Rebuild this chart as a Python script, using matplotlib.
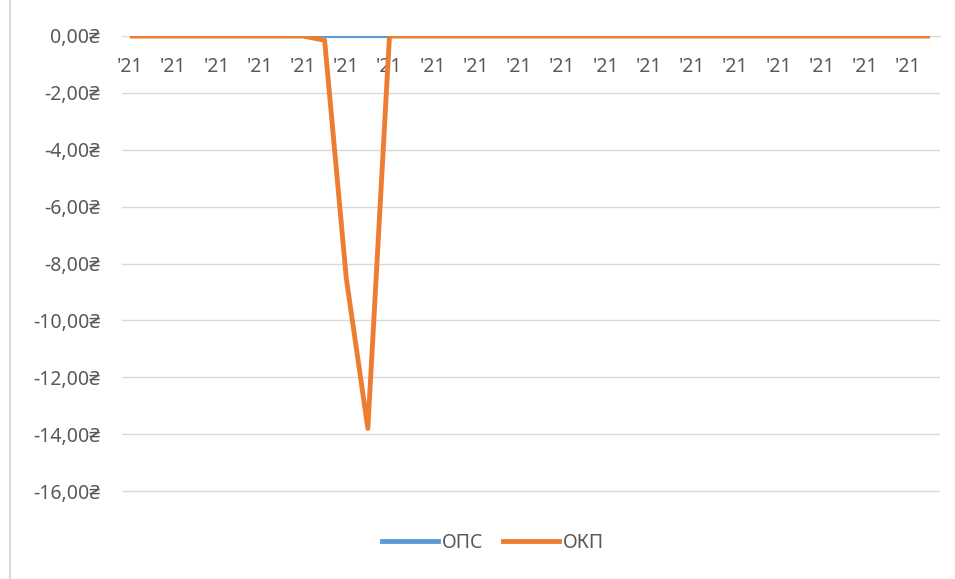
import matplotlib
matplotlib.use("Agg")
import matplotlib.pyplot as plt
from matplotlib.lines import Line2D
import numpy as np

plt.rcParams['font.family'] = ['Noto Sans', 'DejaVu Sans']

n_points = 38
ops = [0.0] * n_points
okp = [0.0] * n_points
okp[9] = -0.15
okp[10] = -8.5
okp[11] = -13.8
x_labels = ["'21"] * 19
series_names = ["ОПС", "ОКП"]
y_ticks = [0, -2, -4, -6, -8, -10, -12, -14, -16]

fig = plt.figure(figsize=(9.55, 5.79), dpi=100)
ax = fig.add_axes([122/955, 1-493/579, (940-122)/955, (493-36)/579])

x = np.arange(n_points)
ax.plot(x, ops, color='#5B9BD5', lw=3.0, solid_capstyle='butt', zorder=3)
ax.plot(x, okp, color='#ED7D31', lw=3.5, solid_capstyle='butt', zorder=4)

ax.set_xlim(-0.37, 37.46)
ax.set_ylim(-16.07, 0)
ax.set_yticks(y_ticks)
ax.set_yticklabels([f"{v:.2f}".replace('.', ',') + "₴" for v in y_ticks])
ax.yaxis.grid(True, color='#D9D9D9', lw=1)
ax.set_axisbelow(True)

ax.set_xticks(np.arange(0, n_points, 2))
ax.set_xticklabels(x_labels)

for s in ['top', 'right', 'left']:
    ax.spines[s].set_visible(False)
ax.spines['bottom'].set_position(('data', 0))
ax.spines['bottom'].set_color('#D9D9D9')
ax.tick_params(axis='x', length=0, pad=15, labelsize=14, labelcolor='#595959')
ax.tick_params(axis='y', length=0, pad=16, labelsize=14, labelcolor='#595959')

handles = [Line2D([], [], color='#5B9BD5', lw=3.5),
           Line2D([], [], color='#ED7D31', lw=3.5)]
fig.legend(handles, series_names, loc='center', bbox_to_anchor=(493/955, 1-543/579),
           ncol=2, frameon=False, fontsize=14, handlelength=2.9, handletextpad=0.2,
           columnspacing=1.0, labelcolor='#595959')

fig.add_artist(Line2D([10/955, 10/955], [0, 1], color='#D9D9D9', lw=1.5,
                      transform=fig.transFigure))

fig.savefig('out.png', dpi=100)
